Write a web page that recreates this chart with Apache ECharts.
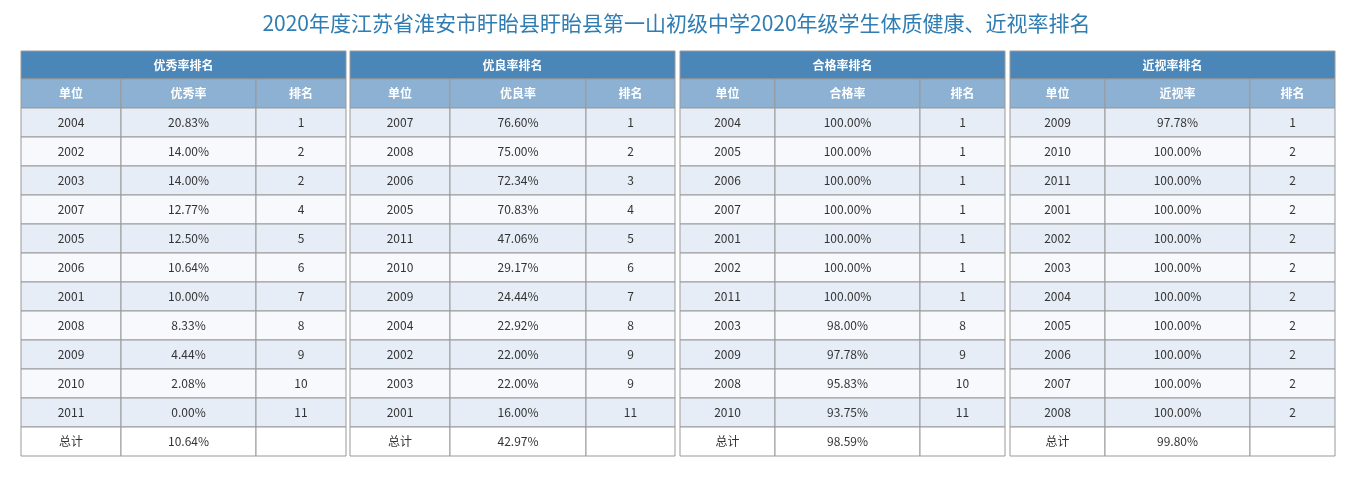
<!DOCTYPE html>
<html><head><meta charset="utf-8">
<script src="https://cdn.jsdelivr.net/npm/echarts@6/dist/echarts.min.js"></script>
<style>html,body{margin:0;background:#fff}#c{width:1353px;height:491px}</style>
</head><body><div id="c"></div>
<script>
var titleText = '2020年度江苏省淮安市盱眙县盱眙县第一山初级中学2020年级学生体质健康、近视率排名';
var tableTitles = ['优秀率排名', '优良率排名', '合格率排名', '近视率排名'];
var rateNames = ['优秀率', '优良率', '合格率', '近视率'];
var units1 = ['2004','2002','2003','2007','2005','2006','2001','2008','2009','2010','2011'];
var rates1 = ['20.83%','14.00%','14.00%','12.77%','12.50%','10.64%','10.00%','8.33%','4.44%','2.08%','0.00%'];
var ranks1 = [1,2,2,4,5,6,7,8,9,10,11];
var units2 = ['2007','2008','2006','2005','2011','2010','2009','2004','2002','2003','2001'];
var rates2 = ['76.60%','75.00%','72.34%','70.83%','47.06%','29.17%','24.44%','22.92%','22.00%','22.00%','16.00%'];
var ranks2 = [1,2,3,4,5,6,7,8,9,9,11];
var units3 = ['2004','2005','2006','2007','2001','2002','2011','2003','2009','2008','2010'];
var rates3 = ['100.00%','100.00%','100.00%','100.00%','100.00%','100.00%','100.00%','98.00%','97.78%','95.83%','93.75%'];
var ranks3 = [1,1,1,1,1,1,1,8,9,10,11];
var units4 = ['2009','2010','2011','2001','2002','2003','2004','2005','2006','2007','2008'];
var rates4 = ['97.78%','100.00%','100.00%','100.00%','100.00%','100.00%','100.00%','100.00%','100.00%','100.00%','100.00%'];
var ranks4 = [1,2,2,2,2,2,2,2,2,2,2];
var totals = ['10.64%', '42.97%', '98.59%', '99.80%'];

var tables = [[units1,rates1,ranks1],[units2,rates2,ranks2],[units3,rates3,ranks3],[units4,rates4,ranks4]];
var tableX = [21, 350, 680, 1010], tableW = 325;
var colW = [[100,135,90],[100,136,89],[95,145,85],[95,145,85]];
var top0 = 51, hH = 28, rowH = 29;
var els = [];
var border = '#999';
function cell(x, y, w, h, fill, text, color, bold) {
  els.push({type:'rect', shape:{x:x,y:y,width:w,height:h}, style:{fill:fill, stroke:border, lineWidth:1}});
  if (text !== '' && text != null) els.push({type:'text', x:x+w/2, y:y+h/2, style:{text:String(text), fill:color, font:(bold?'bold ':'')+'12px "Noto Sans CJK SC", sans-serif', align:'center', verticalAlign:'middle'}});
}
tables.forEach(function(t, ti){
  var x0 = tableX[ti], cw = colW[ti];
  var xs = [x0, x0+cw[0], x0+cw[0]+cw[1]];
  cell(x0, top0, tableW, hH, '#4a86b8', tableTitles[ti], '#fff', true);
  var heads = ['单位', rateNames[ti], '排名'];
  var y = top0 + hH;
  for (var c=0;c<3;c++) cell(xs[c], y, cw[c], rowH, '#8db1d2', heads[c], '#fff', true);
  for (var r=0;r<t[0].length;r++){
    y = top0 + hH + rowH*(r+1);
    var fill = r%2===0 ? '#e6edf6' : '#f7f9fc';
    for (c=0;c<3;c++) cell(xs[c], y, cw[c], rowH, fill, t[c][r], '#333', false);
  }
  y = top0 + hH + rowH*(t[0].length+1);
  cell(xs[0], y, cw[0], rowH, '#fff', '总计', '#333', false);
  cell(xs[1], y, cw[1], rowH, '#fff', totals[ti], '#333', false);
  cell(xs[2], y, cw[2], rowH, '#fff', '', '#333', false);
});
var chart = echarts.init(document.getElementById('c'));
chart.setOption({
  title: {text: titleText, left: 'center', top: 8, textStyle: {color:'#2f7db3', fontSize: 21, fontWeight:'normal', fontFamily:'"Noto Sans CJK SC", sans-serif'}},
  graphic: els
});
</script></body></html>
